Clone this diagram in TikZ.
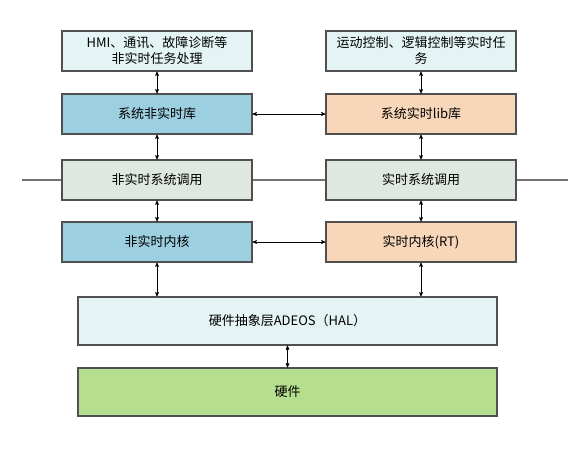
\documentclass[tikz,border=0pt]{standalone}
\usepackage{fontspec}
\newfontfamily\cjk{Noto Sans CJK SC}
\usepackage{tikz}
\usetikzlibrary{arrows}
\usetikzlibrary{positioning}

\definecolor{taskfill}{HTML}{E4F3F4}
\definecolor{nrtfill}{HTML}{9CCFDF}
\definecolor{rtfill}{HTML}{F8D6B9}
\definecolor{callfill}{HTML}{DFE8E0}
\definecolor{hwfill}{HTML}{B5DF8E}
\definecolor{boxline}{HTML}{505050}

\tikzset{
	layer/.style={draw=boxline,line width=1.1pt,minimum width=190pt,minimum height=40pt,
		inner sep=2pt,align=center,font=\cjk\fontsize{13}{16}\selectfont},
	wide/.style={layer,minimum width=419pt,minimum height=48pt},
	link/.style={<->,>=stealth',line width=0.6pt},
}

\begin{document}
\begin{tikzpicture}[x=1pt,y=-1pt]
	\useasboundingbox (0,0) rectangle (588,449);
	
	% system call line
	\draw[line width=1.2pt,draw=black!55] (22,180) coordinate (lend) -- (568,180) coordinate (rend);
	
	\node[layer,fill=taskfill] (tl) at (157,51) {HMI、通讯、故障诊断等\\非实时任务处理};
	\node[layer,fill=taskfill] (tr) at (421,51) {运动控制、逻辑控制等实时任\\务};
	\node[layer,fill=nrtfill] (ll) at (157,114) {系统非实时库};
	\node[layer,fill=rtfill] (lr) at (421,114) {系统实时lib库};
	\node[layer,fill=callfill] (cl) at (157,180) {非实时系统调用};
	\node[layer,fill=callfill] (cr) at (421,180) {实时系统调用};
	\node[layer,fill=nrtfill] (kl) at (157,242) {非实时内核};
	\node[layer,fill=rtfill] (kr) at (421,242) {实时内核(RT)};
	\node[wide,fill=taskfill] (hal) at (287.5,321) {硬件抽象层ADEOS（HAL）};
	\node[wide,fill=hwfill] (hw) at (287.5,392) {硬件};
	
	\draw[link] (tl) -- (ll);
	\draw[link] (ll) -- (cl);
	\draw[link] (cl) -- (kl);
	\draw[link] (tr) -- (lr);
	\draw[link] (lr) -- (cr);
	\draw[link] (cr) -- (kr);
	\draw[link] (ll) -- (lr);
	\draw[link] (kl) -- (kr);
	\draw[link] (kl.south) -- (kl.south |- hal.north);
	\draw[link] (kr.south) -- (kr.south |- hal.north);
	\draw[link] (hal) -- (hw);
\end{tikzpicture}
\end{document}
